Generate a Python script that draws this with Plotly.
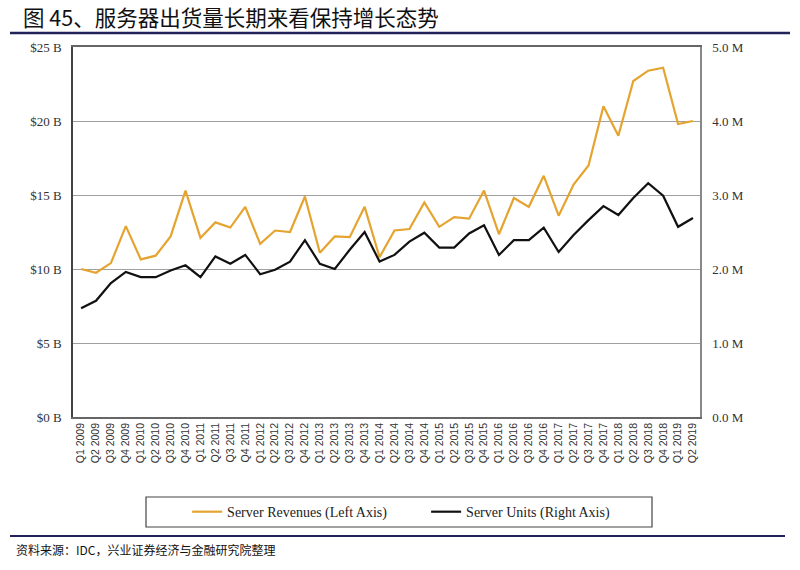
import plotly.graph_objects as go

quarters = [f"Q{q} {y}" for y in range(2009, 2020) for q in range(1, 5)][:42]

revenues_b = [10.0, 9.75, 10.4, 12.9, 10.65, 10.9, 12.2, 15.3, 12.1, 13.15,
              12.8, 14.2, 11.7, 12.6, 12.5, 14.9, 11.1, 12.2, 12.15, 14.2,
              10.8, 12.6, 12.7, 14.5, 12.85, 13.5, 13.4, 15.3, 12.35, 14.8,
              14.2, 16.3, 13.6, 15.7, 17.0, 21.0, 19.0, 22.7, 23.4, 23.6,
              19.8, 20.0]

units_m = [1.47, 1.57, 1.81, 1.96, 1.89, 1.89, 1.98, 2.05, 1.89, 2.17,
           2.07, 2.19, 1.93, 1.99, 2.10, 2.39, 2.07, 2.00, 2.26, 2.50,
           2.10, 2.19, 2.37, 2.49, 2.29, 2.29, 2.48, 2.59, 2.19, 2.39,
           2.39, 2.56, 2.23, 2.46, 2.66, 2.85, 2.73, 2.96, 3.16, 2.99,
           2.57, 2.69]

left_ticks = [0, 5, 10, 15, 20, 25]
left_labels = ["$0 B", "$5 B", "$10 B", "$15 B", "$20 B", "$25 B"]
right_ticks = [0, 1, 2, 3, 4, 5]
right_labels = ["0.0 M", "1.0 M", "2.0 M", "3.0 M", "4.0 M", "5.0 M"]

title_text = "图 45、服务器出货量长期来看保持增长态势"
source_text = "资料来源：IDC，兴业证券经济与金融研究院整理"

ORANGE = "#E5A430"
SERIF = "Liberation Serif, DejaVu Serif, serif"
CJK = "Noto Sans CJK SC"

fig = go.Figure()
fig.add_trace(go.Scatter(x=quarters, y=revenues_b, mode="lines",
                         name="Server Revenues (Left Axis)",
                         line=dict(color=ORANGE, width=2.2), yaxis="y"))
fig.add_trace(go.Scatter(x=quarters, y=units_m, mode="lines",
                         name="Server Units (Right Axis)",
                         line=dict(color="#111111", width=2.2), yaxis="y2"))

fig.update_layout(
    width=800, height=570,
    margin=dict(l=73, r=100, t=47, b=153),
    paper_bgcolor="white", plot_bgcolor="white",
    showlegend=True,
    xaxis=dict(type="category", range=[-0.54, 41.47], automargin=False,
               tickangle=-90, tickfont=dict(family="Liberation Sans, Arial", size=10.5, color="#333"),
               showgrid=False, showline=True, linecolor="#666", linewidth=1.5, mirror=True,
               ticks="", zeroline=False),
    yaxis=dict(range=[0, 25], tickvals=left_ticks, ticktext=left_labels, automargin=False,
               tickfont=dict(family=SERIF, size=13, color="#333"),
               showgrid=True, gridcolor="#a0a0a0", gridwidth=1,
               showline=True, linecolor="#444", linewidth=1.5,
               ticks="", ticklabelstandoff=7, zeroline=False),
    yaxis2=dict(range=[0, 5], tickvals=right_ticks, ticktext=right_labels,
                overlaying="y", side="right", automargin=False,
                tickfont=dict(family=SERIF, size=13, color="#333"),
                showgrid=False, showline=True, linecolor="#888", linewidth=1.5,
                ticks="", ticklabelstandoff=8, zeroline=False),
    legend=dict(orientation="h", x=0.182, y=-0.257, xanchor="left", yanchor="middle",
                font=dict(family=SERIF, size=14, color="#222"),
                bgcolor="rgba(0,0,0,0)", borderwidth=0,
                entrywidth=194, entrywidthmode="pixels", itemwidth=30),
)

# legend frame
fig.add_shape(type="rect", xref="paper", yref="paper",
              x0=(146 - 73) / 627, x1=(652 - 73) / 627,
              y0=(417 - 527) / 370, y1=(417 - 497) / 370,
              line=dict(color="#444", width=1.2), fillcolor="rgba(0,0,0,0)")

# title & rules
fig.add_annotation(text=title_text, xref="paper", yref="paper",
                   x=(21 - 73) / 627, y=(417 - 17) / 370, xanchor="left", yanchor="middle",
                   showarrow=False, font=dict(family=CJK, size=21.5, color="#111"))
fig.add_shape(type="line", xref="paper", yref="paper",
              x0=(10 - 73) / 627, x1=(790 - 73) / 627,
              y0=(417 - 33) / 370, y1=(417 - 33) / 370,
              line=dict(color="#22225a", width=2.5))
fig.add_shape(type="line", xref="paper", yref="paper",
              x0=(10 - 73) / 627, x1=(785 - 73) / 627,
              y0=(417 - 536) / 370, y1=(417 - 536) / 370,
              line=dict(color="#22225a", width=2))
fig.add_annotation(text=source_text, xref="paper", yref="paper",
                   x=(14 - 73) / 627, y=(417 - 549) / 370, xanchor="left", yanchor="middle",
                   showarrow=False, font=dict(family=CJK, size=12, color="#111"))

fig.write_html("out.html", config={"displayModeBar": False},
               post_script="document.body.style.margin='0';")
